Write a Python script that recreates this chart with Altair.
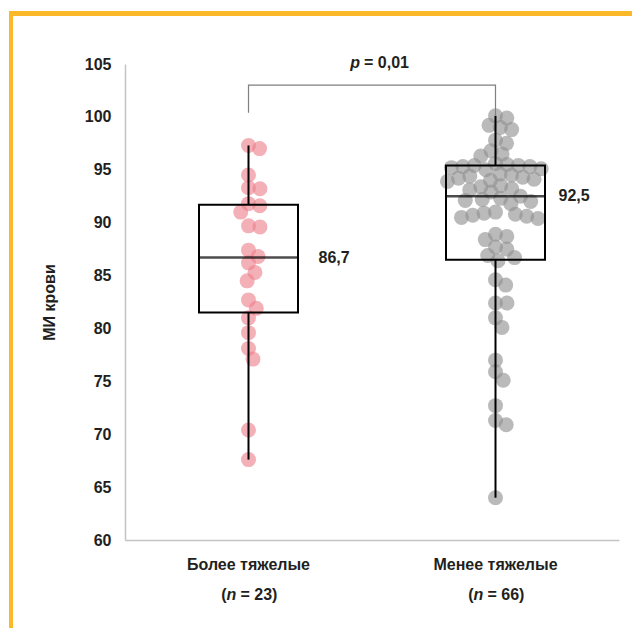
import math

import altair as alt
import pandas as pd

# --- data -------------------------------------------------------------------
groups = ["Более тяжелые", "Менее тяжелые"]
group_n = [23, 66]

severe_values = [97.3, 97.0, 94.5, 93.3, 93.2, 91.8, 91.6, 91.0, 89.7, 89.6,
                 87.4, 86.8, 86.2, 85.3, 84.5, 82.7, 81.9, 81.0, 79.6, 78.1,
                 77.1, 70.4, 67.6]
mild_values = [100.1, 99.9, 99.2, 99.0, 98.8, 97.8, 97.5, 96.8, 96.5, 96.3,
               95.6, 95.5, 95.4, 95.4, 95.3, 95.3, 95.2, 95.1, 95.0,
               94.6, 94.5, 94.4, 94.3, 94.2, 94.1, 94.0, 93.9,
               93.5, 93.4, 93.2, 93.1, 92.9,
               92.5, 92.3, 92.2, 92.1, 92.0, 91.8,
               91.0, 90.9, 90.8, 90.7, 90.6, 90.5, 90.4,
               88.9, 88.7, 88.4, 87.7, 87.5, 86.9, 86.7, 86.4,
               84.6, 84.1, 82.4, 82.4, 81.0, 80.1,
               77.0, 75.9, 75.1, 72.7, 71.3, 70.9, 64.0]

q1 = [81.5, 86.5]
medians = [86.7, 92.5]
q3 = [91.7, 95.4]
whisker_low = [67.6, 64.0]
whisker_high = [97.3, 100.1]

p_value = "0,01"
y_ticks = [60, 65, 70, 75, 80, 85, 90, 95, 100, 105]

# --- layout / style ---------------------------------------------------------
W, H = 494, 476
Y_MIN, Y_MAX = 60, 105
PX_PER_UNIT = H / (Y_MAX - Y_MIN)
MIN_DIST = 11.5            # centre distance between swarm dots, px
BOX_W = 99
FONT = "Liberation Sans"
INK = "#231F20"
DOT_COLORS = ["#EE7F8B", "#8F8F8F"]
BORDER = "#FBB829"
AXIS_GREY = "#C4C4C4"
median_label_dx = [70, 63]
median_label_dy = [10, 1]


def swarm_offsets(values):
    """Horizontal pixel offsets so that dots do not pile on each other."""
    placed = []
    offsets = [0.0] * len(values)
    for i in sorted(range(len(values)), key=lambda k: -values[k]):
        y = values[i] * PX_PER_UNIT
        spans = []
        for px, py in placed:
            dy = abs(py - y)
            if dy < MIN_DIST:
                h = math.sqrt(MIN_DIST ** 2 - dy ** 2)
                spans.append((px - h, px + h))
        cands = [0.0] + [a for a, _ in spans] + [b for _, b in spans]
        free = [c for c in cands
                if all(not (a + 1e-6 < c < b - 1e-6) for a, b in spans)]
        best = min(free, key=lambda c: (abs(c), -c))
        offsets[i] = best
        placed.append((best, y))
    return offsets


rows = []
for g, vals in zip(groups, [severe_values, mild_values]):
    for v, off in zip(vals, swarm_offsets(vals)):
        rows.append({"group": g, "value": v, "offset": off})
points = pd.DataFrame(rows)

stats = pd.DataFrame({
    "group": groups,
    "q1": q1, "median": medians, "q3": q3,
    "lo": whisker_low, "hi": whisker_high,
    "label": [f"{m:.1f}".replace(".", ",") for m in medians],
    "dx": median_label_dx, "dy": median_label_dy,
    "n_text": [f"= {n})" for n in group_n],
})

# significance bracket joining the two groups
bracket = pd.DataFrame({
    "group": [groups[0], groups[0], groups[1], groups[1]],
    "value": [100.4, 103.0, 103.0, whisker_high[1]],
    "order": [0, 1, 2, 3],
})

x_scale = alt.Scale(type="point", domain=groups, padding=0.5)
y_scale = alt.Scale(domain=[Y_MIN, Y_MAX], nice=False, zero=False)

X = alt.X("group:N", scale=x_scale,
          axis=alt.Axis(labels=False, ticks=False, title=None,
                        domainColor=AXIS_GREY, domainWidth=1.5))
Y = alt.Y("value:Q", scale=y_scale,
          axis=alt.Axis(values=y_ticks, title="МИ крови", grid=False,
                        ticks=False, tickSize=0, labelPadding=14,
                        domainColor=AXIS_GREY, domainWidth=1.5,
                        labelFont=FONT, labelFontSize=16,
                        labelFontWeight="bold", labelColor=INK,
                        titleFont=FONT, titleFontSize=16,
                        titleFontWeight="bold", titleColor=INK,
                        titlePadding=27))

dots = alt.Chart(points).mark_circle(size=225, opacity=0.62).encode(
    x=X, y=Y,
    xOffset=alt.XOffset("offset:Q", scale=None),
    color=alt.Color("group:N", scale=alt.Scale(domain=groups, range=DOT_COLORS),
                    legend=None),
)

sb = alt.Chart(stats)
gx = alt.X("group:N", scale=x_scale)
whisk_low = sb.mark_rule(color="black", strokeWidth=2).encode(
    x=gx, y=alt.Y("lo:Q", scale=y_scale), y2="q1:Q")
whisk_high = sb.mark_rule(color="black", strokeWidth=2).encode(
    x=gx, y=alt.Y("q3:Q", scale=y_scale), y2="hi:Q")
box = sb.mark_bar(size=BOX_W, fillOpacity=0, stroke="black", strokeWidth=2).encode(
    x=gx, y=alt.Y("q1:Q", scale=y_scale), y2="q3:Q")
median_line = sb.mark_tick(orient="horizontal", size=BOX_W, thickness=2.5,
                           color="black").encode(
    x=gx, y=alt.Y("median:Q", scale=y_scale))
median_text = sb.mark_text(align="left", baseline="middle", font=FONT,
                           fontSize=16, fontWeight="bold", color=INK).encode(
    x=gx, y=alt.Y("median:Q", scale=y_scale),
    xOffset=alt.XOffset("dx:Q", scale=None),
    yOffset=alt.YOffset("dy:Q", scale=None),
    text="label:N")

bracket_line = alt.Chart(bracket).mark_line(color="#7F7F7F", strokeWidth=1.2).encode(
    x=gx, y=alt.Y("value:Q", scale=y_scale), order="order:Q")

p_df = pd.DataFrame({"value": [105.1]})
p_italic = alt.Chart(p_df).mark_text(
    text="p", align="right", baseline="middle", font=FONT, fontSize=16,
    fontWeight="bold", fontStyle="italic", color=INK).encode(
    x=alt.value(235), y=alt.Y("value:Q", scale=y_scale))
p_rest = alt.Chart(p_df).mark_text(
    text=f"= {p_value}", align="left", baseline="middle", font=FONT,
    fontSize=16, fontWeight="bold", color=INK).encode(
    x=alt.value(239), y=alt.Y("value:Q", scale=y_scale))

lab_style = dict(baseline="middle", font=FONT, fontSize=16, fontWeight="bold",
                 color=INK)
name_text = sb.mark_text(align="center", **lab_style).encode(
    x=gx, y=alt.value(501), text="group:N")
paren_text = sb.mark_text(align="right", text="(", dx=-22, **lab_style).encode(
    x=gx, y=alt.value(531))
n_text = sb.mark_text(align="left", text="n", dx=-22, fontStyle="italic",
                      **lab_style).encode(x=gx, y=alt.value(531))
count_text = sb.mark_text(align="left", dx=-8, **lab_style).encode(
    x=gx, y=alt.value(531), text="n_text:N")

border_top = alt.Chart(p_df).mark_rule(color=BORDER, strokeWidth=5).encode(
    x=alt.value(-116), x2=alt.value(507), y=alt.value(-50.5))
border_left = alt.Chart(p_df).mark_rule(color=BORDER, strokeWidth=4).encode(
    x=alt.value(-114), y=alt.value(-53), y2=alt.value(564))

chart = alt.layer(
    dots, whisk_low, whisk_high, box, median_line, median_text,
    bracket_line, p_italic, p_rest,
    name_text, paren_text, n_text, count_text,
    border_top, border_left,
).properties(
    width=W, height=H,
    autosize=alt.AutoSizeParams(type="none"),
    padding={"left": 125, "top": 64, "right": 13, "bottom": 88},
    background="white",
).configure_view(strokeWidth=0)

chart.save("out.html", embed_options={"renderer": "svg", "actions": False})
